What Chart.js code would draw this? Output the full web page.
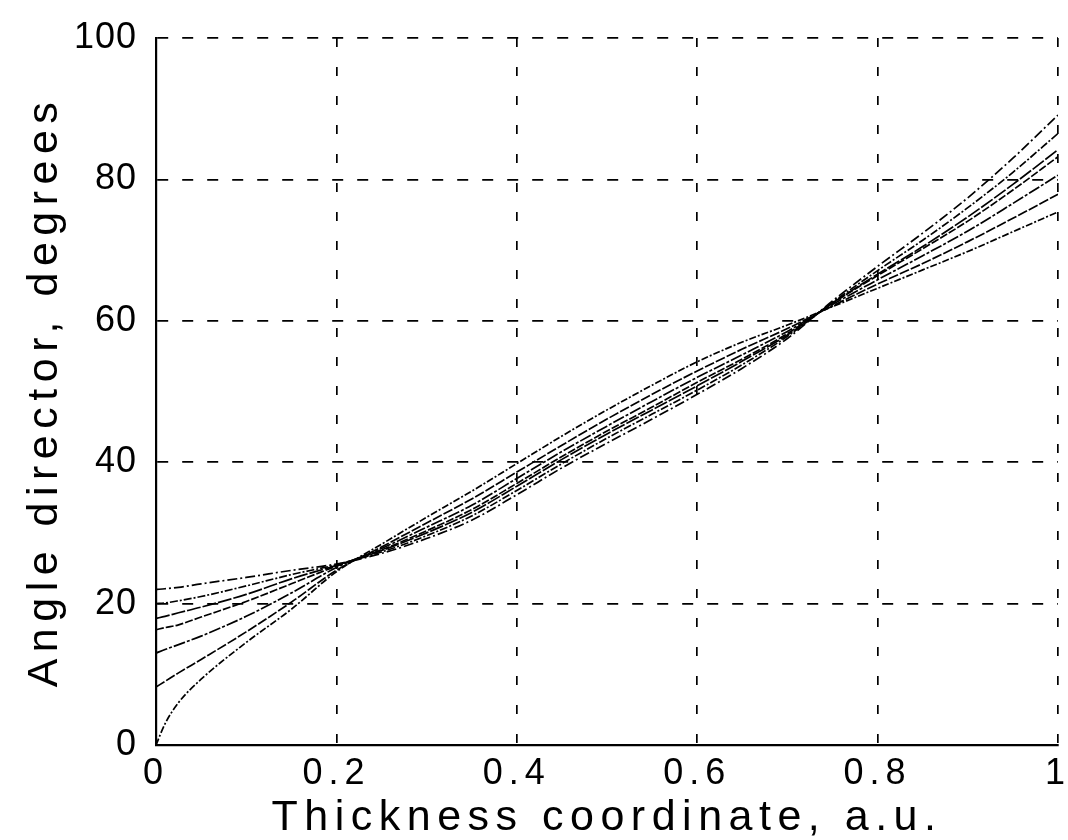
<!DOCTYPE html>
<html>
<head>
<meta charset="utf-8">
<script src="https://cdn.jsdelivr.net/npm/chart.js@4.4.1/dist/chart.umd.min.js"></script>
<style>
html,body{margin:0;padding:0;background:#ffffff;}
#wrap{width:1068px;height:840px;position:relative;}
</style>
</head>
<body>
<div id="wrap"><canvas id="c" width="1068" height="840"></canvas></div>
<script>
// ---- data ----
const xValues = [0, 0.01, 0.025, 0.05, 0.1, 0.15, 0.2, 0.25, 0.3, 0.35, 0.4, 0.45, 0.5, 0.55, 0.6, 0.65, 0.7, 0.75, 0.8, 0.85, 0.9, 0.95, 1];

const curve1 = [0, 3.0, 6.0, 9.3, 14.5, 19.2, 24.5, 28.4, 32.2, 35.9, 39.8, 43.7, 47.4, 50.9, 54.2, 57.0, 59.4, 62.0, 64.6, 67.2, 69.8, 72.6, 75.4];
const curve2 = [8.2, 9.0, 10.2, 12.1, 16.0, 20.2, 24.7, 28.0, 31.4, 34.8, 38.6, 42.4, 46.1, 49.6, 52.9, 56.0, 58.9, 62.1, 65.2, 68.1, 71.2, 74.5, 77.9];
const curve3 = [13, 13.5, 14.2, 15.4, 18.2, 21.5, 25.1, 27.8, 30.8, 33.9, 37.7, 41.5, 45.1, 48.6, 52.0, 55.2, 58.5, 62.3, 65.8, 69.2, 72.7, 76.6, 80.6];
const curve4 = [16.3, 16.6, 17.0, 18.1, 20.3, 22.8, 25.3, 27.6, 30.3, 33.3, 37.0, 40.8, 44.4, 47.8, 51.3, 54.6, 58.2, 62.5, 66.4, 70.2, 74.1, 78.5, 83.2];
const curve5 = [17.9, 18.2, 18.7, 19.5, 21.3, 23.5, 25.4, 27.5, 30.0, 32.9, 36.6, 40.4, 44.0, 47.4, 50.8, 54.3, 58.0, 62.5, 66.6, 70.5, 74.7, 79.3, 84.2];
const curve6 = [20, 20.1, 20.4, 21.0, 22.5, 24.1, 25.5, 27.3, 29.6, 32.4, 36.0, 39.8, 43.4, 46.8, 50.2, 53.8, 57.8, 62.6, 67.1, 71.4, 76.0, 81.0, 86.5];
const curve7 = [22, 22.1, 22.3, 22.8, 23.7, 24.7, 25.6, 27.1, 29.2, 31.8, 35.4, 39.2, 42.7, 46.1, 49.6, 53.3, 57.5, 62.8, 67.7, 72.4, 77.4, 83.0, 89.1];

const xTickLabels = ['0', '0.2', '0.4', '0.6', '0.8', '1'];
const yTickLabels = ['0', '20', '40', '60', '80', '100'];
const xTitle = 'Thickness coordinate, a.u.';
const yTitle = 'Angle director, degrees';

// ---- styling ----
const FONT = "'Liberation Sans', Arial, Helvetica, sans-serif";
const curves = [curve1, curve2, curve3, curve4, curve5, curve6, curve7];
const dashes = [[7,2,2,2], [10,2], [12,2,3,2], [8,2], [14,2], [8,2,2,2], [10,3,2,3]];

const datasets = curves.map((ys, k) => ({
  data: xValues.map((x, i) => ({x: x, y: ys[i]})),
  borderColor: '#000000',
  borderWidth: 1.7,
  borderDash: dashes[k],
  pointRadius: 0,
  fill: false,
  cubicInterpolationMode: 'monotone'
}));

const spacing = {
  x: {labels: '6px', title: '6.5px'},
  y: {labels: '1px', title: '6.5px'}
};
const spacingPlugin = {
  id: 'letterSpacing',
  beforeDraw(chart) {
    for (const id of ['x', 'y']) {
      const s = chart.scales[id];
      if (!s || s._spPatched) continue;
      s._spPatched = true;
      const dl = s.drawLabels, dt = s.drawTitle;
      s.drawLabels = function (a) {
        const c = this.ctx; c.save(); c.letterSpacing = spacing[id].labels; dl.call(this, a); c.restore();
      };
      s.drawTitle = function () {
        const c = this.ctx; c.save(); c.letterSpacing = spacing[id].title; dt.call(this); c.restore();
      };
    }
  }
};

new Chart(document.getElementById('c').getContext('2d'), {
  type: 'line',
  data: {datasets: datasets},
  options: {
    responsive: false,
    animation: false,
    devicePixelRatio: 1,
    layout: {padding: {left: 0, right: 10, top: 38, bottom: 0}},
    plugins: {legend: {display: false}, tooltip: {enabled: false}},
    scales: {
      x: {
        type: 'linear', min: 0, max: 1,
        afterFit(s) { s.height = 95; s.paddingLeft = 0; s.paddingRight = 0; },
        ticks: {stepSize: 0.2, autoSkip: false, maxRotation: 0, padding: 7, color: '#000',
                font: {family: FONT, size: 36}, callback: (v, i) => xTickLabels[i]},
        grid: {color: '#000', lineWidth: 1.7, drawTicks: false},
        border: {display: true, color: '#000', width: 2.2, dash: [9, 20]},
        title: {display: true, text: xTitle, color: '#000',
                font: {family: FONT, size: 43, lineHeight: 1}, padding: {top: 0, bottom: 0}}
      },
      y: {
        type: 'linear', min: 0, max: 100,
        afterFit(s) { s.width = 156; s.paddingTop = 0; s.paddingBottom = 0; },
        ticks: {stepSize: 20, autoSkip: false, padding: 19, color: '#000',
                font: {family: FONT, size: 36}, callback: (v, i) => yTickLabels[i]},
        grid: {color: '#000', lineWidth: 1.7, drawTicks: false},
        border: {display: true, color: '#000', width: 2.2, dash: [11, 14]},
        title: {display: true, text: yTitle, color: '#000',
                font: {family: FONT, size: 43, lineHeight: 1}, padding: {top: 24, bottom: 0}}
      }
    }
  },
  plugins: [spacingPlugin]
});
</script>
</body>
</html>
